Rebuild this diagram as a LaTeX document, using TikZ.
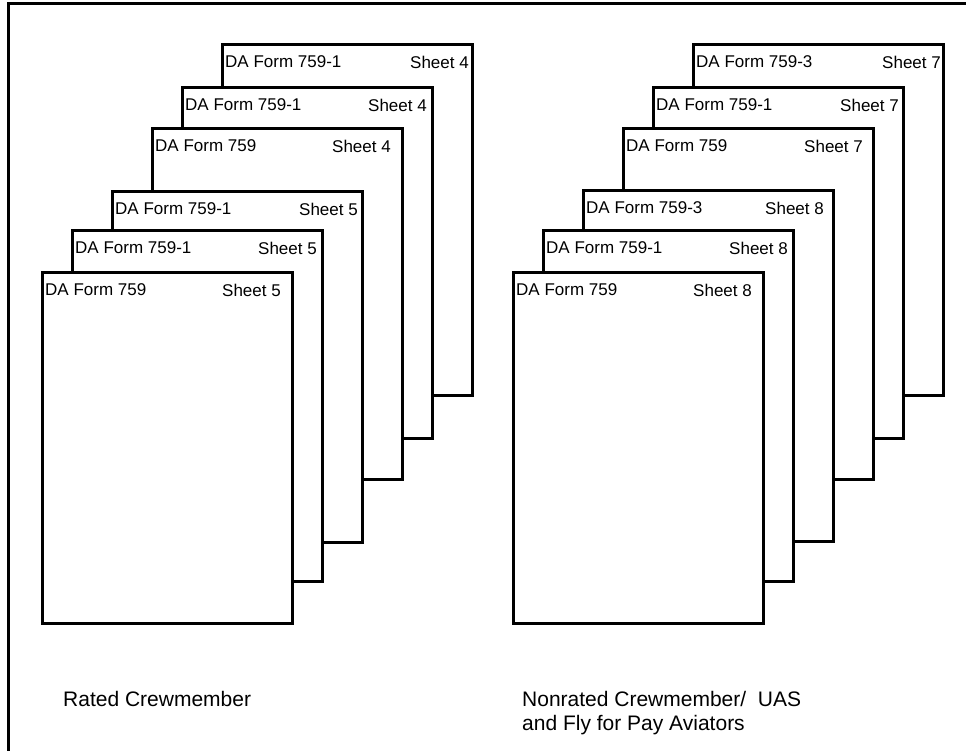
\documentclass[tikz,border=0pt]{standalone}
\usepackage{fontspec}
\setmainfont{Liberation Sans}
\usetikzlibrary{positioning}
\tikzset{
  sheetbox/.style={rectangle, draw=black, fill=white, line width=3pt, outer sep=0pt,
    minimum width=250pt, minimum height=351pt, anchor=north west, inner sep=0pt},
  formlbl/.style={anchor=west, inner sep=0pt, font=\fontsize{17}{20}\selectfont},
  caplbl/.style={anchor=north west, inner sep=0pt, align=left, font=\fontsize{21}{24}\selectfont},
  frame/.style={line width=3pt},
}
% one form sheet: name, x, y, form number, sheet number, x of the sheet number
\newcommand{\formsheet}[6]{%
  \node[sheetbox] (#1) at (#2,#3) {};
  \node[formlbl] (#1-form) at ([shift={(3,18)}]#1.north west) {DA Form #4};
  \node[formlbl] (#1-no) at ([shift={(#6,18)}]#1.north west) {Sheet #5};}

\begin{document}
\begin{tikzpicture}[x=1pt, y=-1pt]
  \useasboundingbox[fill=white] (0,0) rectangle (966,750);
  \draw[frame] (8,760) -- (8,3) -- (976,3);
  % rated crewmember stack, back to front
  \foreach \xx/\yy/\ff/\ss/\dd [count=\i] in {222/44/759-1/4/188, 182/87/759-1/4/186,
      152/128/759/4/180, 112/191/759-1/5/187, 72/230/759-1/5/186, 42/272/759/5/180}
    {\formsheet{L\i}{\xx}{\yy}{\ff}{\ss}{\dd}}
  % nonrated crewmember stack, back to front
  \foreach \xx/\yy/\ff/\ss/\dd [count=\i] in {693/44/759-3/7/189, 653/87/759-1/7/187,
      623/128/759/7/181, 583/190/759-3/8/182, 543/230/759-1/8/186, 513/272/759/8/180}
    {\formsheet{R\i}{\xx}{\yy}{\ff}{\ss}{\dd}}
  \node[caplbl] (rated) at (63,691) {Rated Crewmember};
  \node[caplbl] (nonrated) at (522,691) {Nonrated Crewmember/\ \ UAS\\and Fly for Pay Aviators};
\end{tikzpicture}
\end{document}
